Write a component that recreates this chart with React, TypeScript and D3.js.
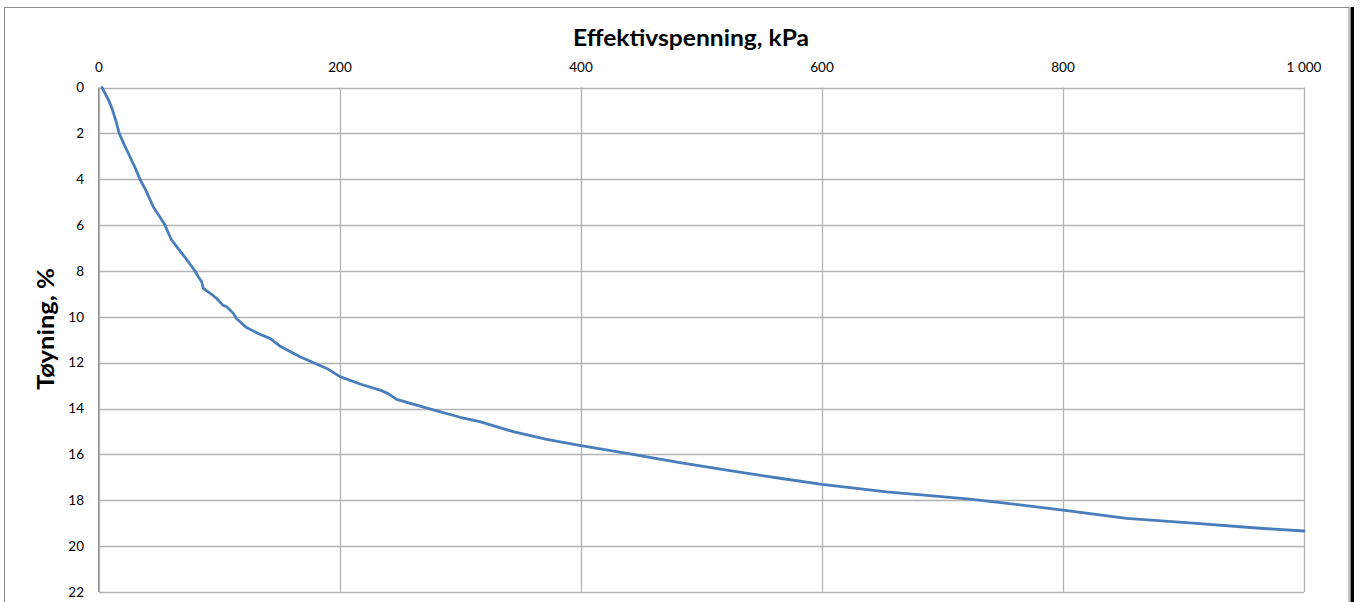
import React from "react";
import * as d3 from "d3";

const stressKPa: number[] = [2.5, 5, 8, 11, 14, 16.8, 21, 25.7, 30, 34, 39, 45, 50, 54.8, 58, 60.3, 64.5, 72, 79.7, 82.4, 85.2, 86.5, 88.8, 93, 97.6, 103, 106, 111.5, 114, 118.4, 122, 126.7, 133, 141.9, 150, 166.8, 189, 200, 216.6, 234.6, 240, 247, 263.5, 277.4, 299.6, 316, 343.8, 371.5, 400, 440.7, 482, 523.6, 565, 600, 653.6, 722.8, 764.3, 800, 852.8, 908, 963.3, 1000];
const strainPct: number[] = [0, 0.25, 0.55, 0.95, 1.45, 2, 2.5, 3.02, 3.5, 4, 4.5, 5.2, 5.6, 6, 6.4, 6.65, 6.94, 7.45, 8, 8.25, 8.47, 8.75, 8.85, 9.0, 9.2, 9.5, 9.56, 9.85, 10.07, 10.28, 10.45, 10.58, 10.75, 10.94, 11.27, 11.74, 12.25, 12.61, 12.93, 13.22, 13.35, 13.6, 13.85, 14.06, 14.38, 14.57, 15.01, 15.34, 15.62, 15.98, 16.36, 16.71, 17.04, 17.31, 17.63, 17.95, 18.2, 18.43, 18.79, 19.0, 19.22, 19.34];

const xTicks: number[] = [0, 200, 400, 600, 800, 1000];
const yTicks: number[] = [0, 2, 4, 6, 8, 10, 12, 14, 16, 18, 20, 22];
const xTickLabels: string[] = ["0", "200", "400", "600", "800", "1 000"];
const xTitle = "Effektivspenning, kPa";
const yTitle = "Tøyning, %";

const W = 1360;
const H = 602;
const plot = { left: 99, right: 1304, top: 87.5, bottom: 592 };
const FONT = "Lato, 'Open Sans', sans-serif";

export default function App() {
  const x = d3.scaleLinear().domain([0, 1000]).range([plot.left, plot.right]);
  const y = d3.scaleLinear().domain([0, 22]).range([plot.top, plot.bottom]);
  const data = stressKPa.map((s, i) => [s, strainPct[i]] as [number, number]);
  const line = d3
    .line<[number, number]>()
    .x((d) => x(d[0]))
    .y((d) => y(d[1]));

  return (
    <svg
      width={W}
      height={H}
      style={{ position: "absolute", left: 0, top: 0, display: "block" }}
    >
      <rect x={0} y={0} width={W} height={H} fill="#fff" />
      <rect x={4.5} y={7.5} width={1344.5} height={640} fill="#fff" stroke="#8c8c8c" strokeWidth={1} />
      <rect x={1350.5} y={7} width={3.5} height={620} fill="#000" />
      {/* gridlines */}
      {yTicks.map((t) => (
        <line key={"gy" + t} x1={plot.left} x2={plot.right} y1={Math.round(y(t)) + 0.5} y2={Math.round(y(t)) + 0.5} stroke="#b3b3b3" strokeWidth={1.3} />
      ))}
      {xTicks.map((t) => (
        <line key={"gx" + t} x1={Math.round(x(t)) + 0.5} x2={Math.round(x(t)) + 0.5} y1={plot.top} y2={plot.bottom} stroke="#b3b3b3" strokeWidth={1.3} />
      ))}
      <line x1={plot.left - 0.5} x2={plot.left - 0.5} y1={plot.top} y2={plot.bottom} stroke="#8c8c8c" strokeWidth={1} />
      {/* x tick labels (top) */}
      {xTicks.map((t, i) => (
        <text key={"tx" + t} x={x(t)} y={71.5} textAnchor="middle" fontFamily={FONT} fontSize={13.5} fill="#000">
          {xTickLabels[i]}
        </text>
      ))}
      {/* y tick labels */}
      {yTicks.map((t) => (
        <text key={"ty" + t} x={84} y={y(t)} dy="0.35em" textAnchor="end" fontFamily={FONT} fontSize={13.5} fill="#000">
          {t}
        </text>
      ))}
      {/* data line */}
      <path d={line(data) || ""} fill="none" stroke="#4a7ebb" strokeWidth={2.8} strokeLinejoin="round" strokeLinecap="round" />
      {/* titles */}
      <text x={691} y={45.5} textAnchor="middle" fontFamily={FONT} fontWeight="bold" fontSize={22.5} fill="#000" textLength={236} lengthAdjust="spacingAndGlyphs">
        {xTitle}
      </text>
      <text transform={`translate(54,329) rotate(-90)`} textAnchor="middle" fontFamily={FONT} fontWeight="bold" fontSize={22.5} fill="#000" textLength={122} lengthAdjust="spacingAndGlyphs">
        {yTitle}
      </text>
    </svg>
  );
}
